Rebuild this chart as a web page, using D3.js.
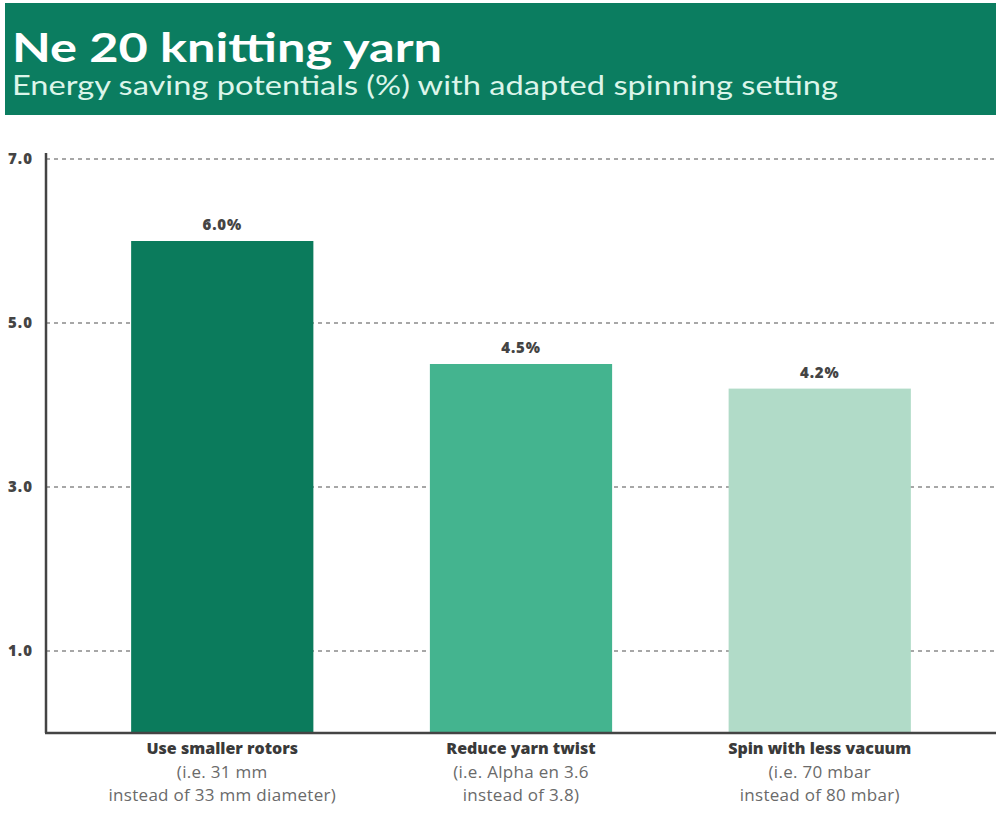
<!DOCTYPE html>
<html>
<head>
<meta charset="utf-8">
<script src="https://cdn.jsdelivr.net/npm/d3@7"></script>
<style>
  body { margin: 0; background: #fff; }
  svg { display: block; font-family: Lato, "Open Sans", sans-serif; }
  .axis-text { font-family: "Open Sans", Lato, sans-serif; }
</style>
</head>
<body>
<div id="chart"></div>
<script>
var width = 996, height = 818;

// Data
var categories = ["Use smaller rotors", "Reduce yarn twist", "Spin with less vacuum"];
var details = [
   ["(i.e. 31 mm", "instead of 33 mm diameter)"],
   ["(i.e. Alpha en 3.6", "instead of 3.8)"],
   ["(i.e. 70 mbar", "instead of 80 mbar)"]
];
var values = [6.0, 4.5, 4.2];
var yTicks = [1.0, 3.0, 5.0, 7.0];
var barColors = ["#0b7b5c", "#44b48f", "#b1dbc8"];

var svg = d3.select("#chart")
   .append("svg")
   .attr("width", width)
   .attr("height", height);

// Header band
svg.append("rect")
   .attr("x", 5)
   .attr("y", 3)
   .attr("width", width - 5)
   .attr("height", 112)
   .attr("fill", "#0b7d60");

var title = svg.append("text")
   .attr("x", 12)
   .attr("y", 62)
   .attr("fill", "#ffffff")
   .style("font-size", "40px")
   .style("font-weight", "bold")
   .text("Ne 20 knitting yarn");

var subtitle = svg.append("text")
   .attr("x", 12)
   .attr("y", 95)
   .attr("fill", "#dcf5ea")
   .style("font-size", "27px")
   .text("Energy saving potentials (%) with adapted spinning setting");

// stretch text to the widths seen in the reference
title.attr("textLength", 430).attr("lengthAdjust", "spacingAndGlyphs");
subtitle.attr("textLength", 826).attr("lengthAdjust", "spacingAndGlyphs");

// Scales
var x = d3.scaleBand()
   .domain(categories)
   .range([46, 996])
   .paddingInner(0.39)
   .paddingOuter(0.285);

var y = d3.scaleLinear()
   .domain([0, 7])
   .range([733, 159]);

// Dashed grid lines
svg.selectAll(".grid")
   .data(yTicks)
   .enter().append("line")
   .attr("class", "grid")
   .attr("x1", 46)
   .attr("x2", 996)
   .attr("y1", function (d) { return y(d); })
   .attr("y2", function (d) { return y(d); })
   .attr("stroke", "#8a8a8a")
   .attr("stroke-width", 1.5)
   .attr("stroke-dasharray", "4,4");

// Y tick labels
svg.selectAll(".ytick")
   .data(yTicks)
   .enter().append("text")
   .attr("class", "ytick axis-text")
   .attr("x", 33)
   .attr("y", function (d) { return y(d); })
   .attr("dy", "0.35em")
   .attr("text-anchor", "end")
   .attr("fill", "#444")
   .style("font-size", "15px")
   .style("font-weight", "800")
   .style("letter-spacing", "1px")
   .text(function (d) { return d.toFixed(1); });

// Bars
svg.selectAll(".bar")
   .data(values)
   .enter().append("rect")
   .attr("class", "bar")
   .attr("x", function (d, i) { return x(categories[i]); })
   .attr("y", function (d) { return y(d); })
   .attr("width", x.bandwidth())
   .attr("height", function (d) { return y(0) - y(d); })
   .attr("fill", function (d, i) { return barColors[i]; });

// Value labels
svg.selectAll(".val")
   .data(values)
   .enter().append("text")
   .attr("class", "val axis-text")
   .attr("x", function (d, i) { return x(categories[i]) + x.bandwidth() / 2; })
   .attr("y", function (d) { return y(d) - 11; })
   .attr("text-anchor", "middle")
   .attr("fill", "#444")
   .style("font-size", "15px")
   .style("font-weight", "800")
   .style("letter-spacing", "0.8px")
   .text(function (d) { return d.toFixed(1) + "%"; });

// Axis lines
svg.append("line")
   .attr("x1", 46).attr("x2", 46)
   .attr("y1", 153).attr("y2", y(0))
   .attr("stroke", "#444")
   .attr("stroke-width", 2.5);

svg.append("line")
   .attr("x1", 45).attr("x2", 996)
   .attr("y1", y(0)).attr("y2", y(0))
   .attr("stroke", "#444")
   .attr("stroke-width", 2.5);

// Category labels
var cat = svg.selectAll(".cat")
   .data(categories)
   .enter().append("text")
   .attr("class", "cat axis-text")
   .attr("text-anchor", "middle")
   .style("font-size", "17px");

cat.append("tspan")
   .attr("x", function (d) { return x(d) + x.bandwidth() / 2; })
   .attr("y", 754)
   .attr("fill", "#3a3a3a")
   .style("font-size", "16px")
   .style("font-weight", "800")
   .text(function (d) { return d; });

cat.append("tspan")
   .attr("x", function (d) { return x(d) + x.bandwidth() / 2; })
   .attr("y", 778)
   .attr("fill", "#6a6a6a")
   .style("letter-spacing", "0.3px")
   .text(function (d, i) { return details[i][0]; });

cat.append("tspan")
   .attr("x", function (d) { return x(d) + x.bandwidth() / 2; })
   .attr("y", 801)
   .attr("fill", "#6a6a6a")
   .style("letter-spacing", "0.3px")
   .text(function (d, i) { return details[i][1]; });
</script>
</body>
</html>
